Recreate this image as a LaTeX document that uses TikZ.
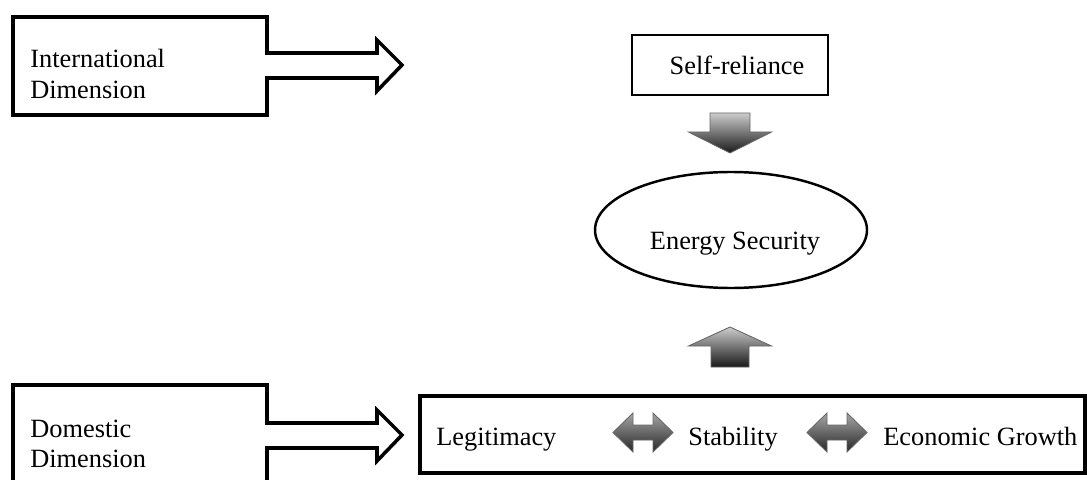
\documentclass[tikz,border=0pt]{standalone}
\usepackage{fontspec}
\setmainfont{Liberation Serif}
\usetikzlibrary{shapes.geometric}

\tikzset{
  dimbox/.style={line width=2pt, line join=miter},
  txt/.style={inner sep=0pt, align=left},
  blockarrow/.style={draw=black!60, line width=0.5pt, line join=miter,
    top color=gray!40, bottom color=black!90},
  twoway/.style={blockarrow, top color=gray!70, bottom color=black!85}
}

\begin{document}
\begin{tikzpicture}[font=\fontsize{15}{17.5}\selectfont]

    % Frame of the picture (the domestic box runs off the bottom)
    \useasboundingbox (0,0) rectangle (21.74,9.58);
    \clip (0,0) rectangle (21.74,9.58);

    % International dimension: box and outlined arrow in one line
    \draw[dimbox] (0.26,9.24) -- (5.34,9.24) -- (5.34,8.52) -- (7.54,8.52)
        -- (7.54,8.78) -- (8.04,8.28) -- (7.54,7.76) -- (7.54,8.02)
        -- (5.34,8.02) -- (5.34,7.28) -- (0.26,7.28) -- cycle;
    \node[txt, anchor=west] (intl) at (0.60,8.10) {International\\Dimension};

    % Domestic dimension: same shape, cut off by the frame
    \draw[dimbox] (0.26,-0.50) -- (0.26,1.88) -- (5.34,1.88) -- (5.34,1.12)
        -- (7.54,1.12) -- (7.54,1.38) -- (8.04,0.88) -- (7.54,0.36)
        -- (7.54,0.62) -- (5.34,0.62) -- (5.34,-0.50);
    \node[txt, anchor=west] (dom) at (0.60,0.70) {Domestic\\Dimension};

    % Self-reliance and energy security
    \node[draw, line width=1.6pt, minimum width=3.92cm, minimum height=1.20cm,
        inner sep=0pt] (self) at (14.60,8.28) {\hspace*{0.28cm}Self-reliance};
    \node[draw, ellipse, line width=1.4pt, minimum width=5.44cm,
        minimum height=2.32cm] (energy) at (14.62,4.98) {};
    \node[txt] (energytxt) at (14.70,4.70) {Energy Security};

    % Shaded block arrows into the ellipse
    \draw[blockarrow, shift={(14.60,6.52)}] (0,0) -- (0.83,0.42) -- (0.40,0.42)
        -- (0.40,0.80) -- (-0.40,0.80) -- (-0.40,0.42) -- (-0.83,0.42) -- cycle;
    \draw[blockarrow, shift={(14.60,3.04)}] (0,0) -- (0.83,-0.38) -- (0.38,-0.38)
        -- (0.38,-0.80) -- (-0.38,-0.80) -- (-0.38,-0.38) -- (-0.83,-0.38) -- cycle;

    % Bottom box with its three factors
    \draw[dimbox] (8.40,0.12) rectangle (21.70,1.66);
    \node[txt, anchor=base west] (legit) at (8.72,0.68) {Legitimacy};
    \node[txt, anchor=base west] (stab) at (13.76,0.68) {Stability};
    \node[txt, anchor=base west] (growth) at (17.66,0.68) {Economic Growth};

    % Double block arrows between the factors
    \draw[twoway, shift={(12.86,0.93)}] (-0.6,0) -- (-0.2,0.39) -- (-0.2,0.15)
        -- (0.2,0.15) -- (0.2,0.39) -- (0.6,0) -- (0.2,-0.39) -- (0.2,-0.15)
        -- (-0.2,-0.15) -- (-0.2,-0.39) -- cycle;
    \draw[twoway, shift={(16.74,0.93)}] (-0.6,0) -- (-0.2,0.39) -- (-0.2,0.15)
        -- (0.2,0.15) -- (0.2,0.39) -- (0.6,0) -- (0.2,-0.39) -- (0.2,-0.15)
        -- (-0.2,-0.15) -- (-0.2,-0.39) -- cycle;

\end{tikzpicture}
\end{document}
